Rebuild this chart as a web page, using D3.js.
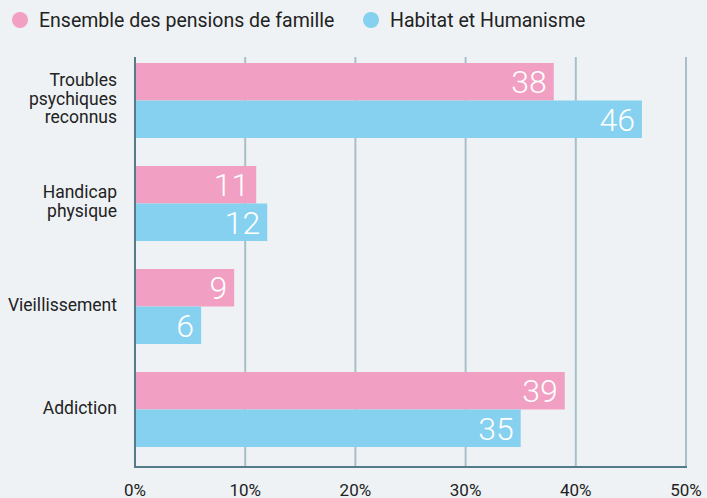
<!DOCTYPE html>
<html>
<head>
<meta charset="utf-8">
<script src="https://cdn.jsdelivr.net/npm/d3@7"></script>
<style>
  body { margin: 0; background: #eef2f5; }
  svg { display: block; font-family: Roboto, "Open Sans", sans-serif; }
</style>
</head>
<body>
<div id="container"></div>
<script>
const categories = [["Troubles", "psychiques", "reconnus"], ["Handicap", "physique"], ["Vieillissement"], ["Addiction"]];
const seriesNames = ["Ensemble des pensions de famille", "Habitat et Humanisme"];
const pensions = [38, 11, 9, 39];
const habitat = [46, 12, 6, 35];
const ticks = [0, 10, 20, 30, 40, 50];

const colors = ["#f19fc2", "#86d0f0"];
const width = 707, height = 498;

const svg = d3.select('#container').append('svg')
              .attr('width', width)
              .attr('height', height);

svg.append('rect').attr('width', width).attr('height', height).attr('fill', '#eef2f5');

const x = d3.scaleLinear().domain([0, 50]).range([135, 686]);
const y = d3.scaleBand().domain(d3.range(categories.length)).range([49, 461])
            .paddingInner(0.272).paddingOuter(0.136);
const ySub = d3.scaleBand().domain([0, 1]).range([0, y.bandwidth()]);

// gridlines
svg.append('g').selectAll('line')
   .data(ticks.slice(1))
   .enter()
   .append('line')
   .attr('x1', d => x(d)).attr('x2', d => x(d))
   .attr('y1', 57).attr('y2', 467)
   .attr('stroke', '#a8bfca')
   .attr('stroke-width', 2);

const rows = categories.map((c, i) => ({i, vals: [pensions[i], habitat[i]]}));

const groups = svg.selectAll('.group')
   .data(rows)
   .enter()
   .append('g')
   .attr('class', 'group')
   .attr('transform', d => `translate(0, ${y(d.i)})`);

groups.selectAll('rect')
      .data(d => d.vals)
      .enter()
      .append('rect')
      .attr('x', x(0))
      .attr('y', (d, j) => ySub(j))
      .attr('width', d => x(d) - x(0))
      .attr('height', ySub.bandwidth())
      .attr('fill', (d, j) => colors[j]);

groups.selectAll('text.val')
      .data(d => d.vals)
      .enter()
      .append('text')
      .attr('class', 'val')
      .attr('x', d => x(d) - 7)
      .attr('y', (d, j) => ySub(j) + ySub.bandwidth() / 2)
      .attr('dy', '0.36em')
      .attr('text-anchor', 'end')
      .attr('fill', '#fff')
      .style('font-size', '32px')
      .style('font-weight', 300)
      .text(d => d);

// category labels
groups.append('text')
      .attr('text-anchor', 'end')
      .attr('fill', '#222')
      .style('font-size', '17.5px')
      .each(function(d) {
          const lines = categories[d.i];
          const lh = 18.5;
          const t = d3.select(this);
          lines.forEach((l, k) => {
              t.append('tspan')
               .attr('x', 117)
               .attr('y', y.bandwidth() / 2 - 2 + (k - (lines.length - 1) / 2) * lh)
               .attr('dy', '0.35em')
               .text(l);
          });
      });

// axes lines
svg.append('line').attr('x1', x(0)).attr('x2', x(0)).attr('y1', 57).attr('y2', 467)
   .attr('stroke', '#557a8a').attr('stroke-width', 2);
svg.append('line').attr('x1', x(0) - 1).attr('x2', x(50) + 1).attr('y1', 467).attr('y2', 467)
   .attr('stroke', '#557a8a').attr('stroke-width', 2);

// tick labels
svg.append('g').selectAll('text')
   .data(ticks)
   .enter()
   .append('text')
   .attr('x', d => x(d))
   .attr('y', 490)
   .attr('dy', '0.35em')
   .attr('text-anchor', 'middle')
   .attr('fill', '#222')
   .style('font-size', '17px')
   .text(d => d + '%');

// legend
const legendX = [20, 371];
const legend = svg.selectAll('.legend')
   .data(seriesNames)
   .enter()
   .append('g')
   .attr('class', 'legend')
   .attr('transform', (d, i) => `translate(${legendX[i]}, 20)`);
legend.append('circle').attr('r', 8).attr('fill', (d, i) => colors[i]);
legend.append('text')
      .attr('x', 19)
      .attr('dy', '0.35em')
      .attr('fill', '#222')
      .style('font-size', '19.5px')
      .text(d => d);
</script>
</body>
</html>
